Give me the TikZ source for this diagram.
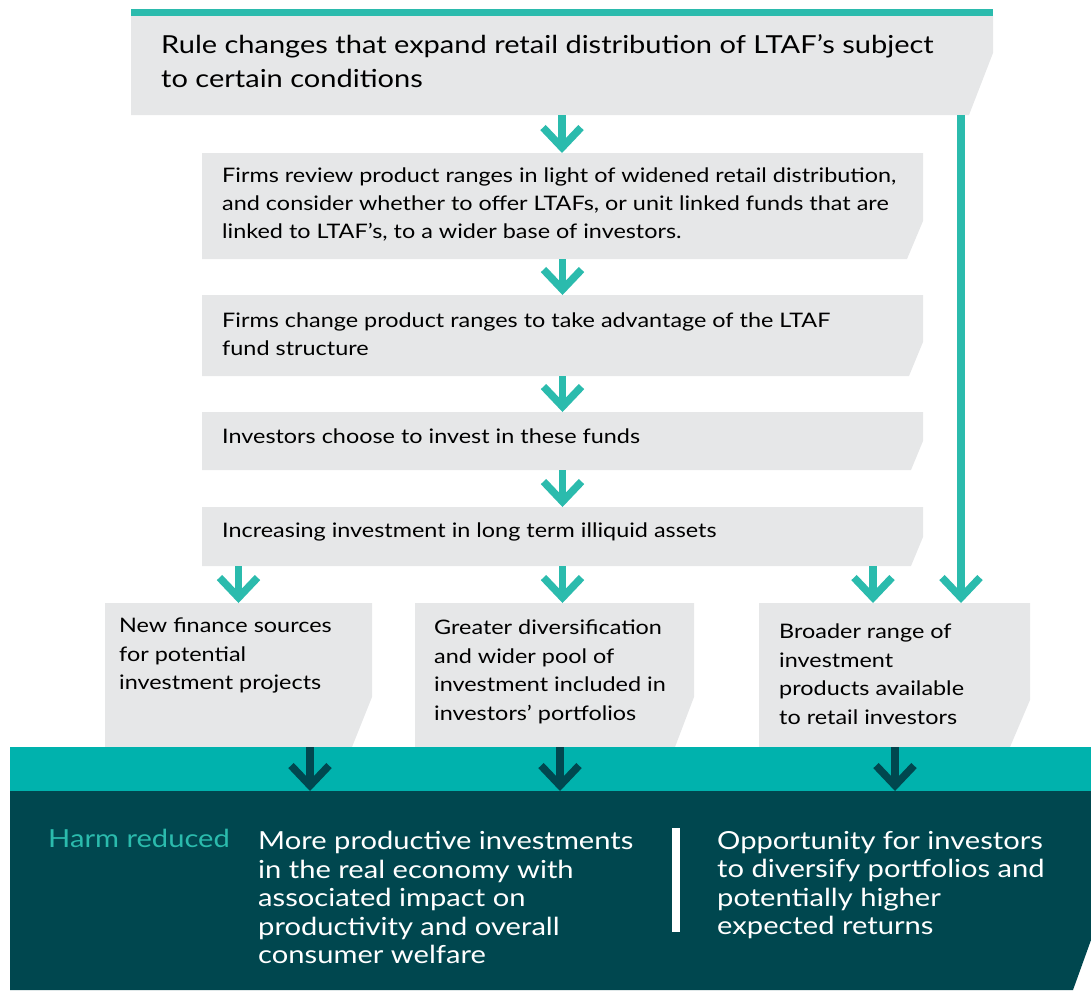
\documentclass[tikz,border=0pt]{standalone}
\usepackage{fontspec}
\setmainfont{Lato}[FakeStretch=1.17]
\usetikzlibrary{arrows.meta,positioning}

\definecolor{fcateal}{HTML}{2BBBAD}
\definecolor{fcaband}{HTML}{00B2AD}
\definecolor{fcadark}{HTML}{00474F}
\definecolor{fcagrey}{HTML}{E6E7E8}

\begin{document}
\begin{tikzpicture}[x=1pt,y=-1pt,
    chamf/.code 2 args={\def\chamx{#1}\def\chamy{#2}},
    chamf={16pt}{38pt},
    boxfill/.store in=\boxcolour, boxfill=fcagrey,
    box/.style={rectangle, inner sep=0pt, outer sep=0pt, anchor=north west,
      path picture={\fill[\boxcolour] (path picture bounding box.north west)
        -- (path picture bounding box.north east)
        -- ([yshift=\chamy]path picture bounding box.south east)
        -- ([xshift=-\chamx]path picture bounding box.south east)
        -- (path picture bounding box.south west) -- cycle;}},
    txt/.style={anchor=north west, inner sep=0pt, align=left,
      font=\fontsize{20}{28.5}\selectfont},
    bigtxt/.style={txt, font=\fontsize{24.9}{28.5}\selectfont},
    flow/.style={-{Straight Barb[length=20pt,width=38pt]}, line width=7.5pt,
      fcateal},
    dkflow/.style={flow, fcadark}]
  \useasboundingbox (0,0) rectangle (1091,990);

  % chain of steps
  \node[box, chamf={24pt}{62pt}, minimum width=862pt, minimum height=99pt]
    (rule) at (131,16) {};
  \draw[fcateal, line width=7pt] ([yshift=3.5pt]rule.north west)
    -- ([yshift=3.5pt]rule.north east);
  \node[box, minimum width=721pt, minimum height=106pt] (review) at (202,153) {};
  \node[box, chamf={14pt}{34pt}, minimum width=721pt, minimum height=81pt]
    (change) at (202,295) {};
  \node[box, chamf={12pt}{29pt}, minimum width=721pt, minimum height=58pt]
    (choose) at (202,412) {};
  \node[box, chamf={12pt}{29pt}, minimum width=721pt, minimum height=59pt]
    (increase) at (202,507) {};

  % outcomes
  \node[box, chamf={20pt}{50pt}, minimum width=267pt, minimum height=144pt]
    (finance) at (105,603) {};
  \node[box, chamf={19pt}{50pt}, minimum width=279pt, minimum height=144pt]
    (diverse) at (415,603) {};
  \node[box, chamf={20pt}{47pt}, minimum width=271pt, minimum height=144pt]
    (broader) at (759,603) {};

  % harm reduced
  \node[fill=fcaband, inner sep=0pt, outer sep=0pt, anchor=north west,
    minimum width=1081pt, minimum height=44pt] (band) at (10,747) {};
  \node[box, boxfill=fcadark, chamf={18pt}{50pt}, minimum width=1081pt,
    minimum height=199pt] (harm) at (10,791) {};

  \node[bigtxt, font=\fontsize{24.8}{34}\selectfont] (ruletext) at (161,34)
    {Rule changes that expand retail distribution of LTAF’s subject\\
     to certain conditions};
  \node[txt, font=\fontsize{20}{28}\selectfont] (reviewtext) at (222,168)
    {Firms review product ranges in light of widened retail distribution,\\
     and consider whether to offer LTAFs, or unit linked funds that are\\
     linked to LTAF’s, to a wider base of investors.};
  \node[txt, font=\fontsize{20}{28}\selectfont] (changetext) at (222,313)
    {Firms change product ranges to take advantage of the LTAF\\
     fund structure};
  \node[txt] (choosetext) at (222,429) {Investors choose to invest in these funds};
  \node[txt] (increasetext) at (222,523)
    {Increasing investment in long term illiquid assets};
  \node[txt] (financetext) at (119,618)
    {New finance sources\\for potential\\investment projects};
  \node[txt] (diversetext) at (434,620)
    {Greater diversification\\and wider pool of\\investment included in\\
     investors’ portfolios};
  \node[txt] (broadertext) at (779,624)
    {Broader range of\\investment\\products available\\to retail investors};

  \node[bigtxt, text=fcateal] (harmlabel) at (48,829) {Harm reduced};
  \node[bigtxt, text=white] (economy) at (258,831)
    {More productive investments\\in the real economy with\\
     associated impact on\\productivity and overall\\consumer welfare};
  \node[bigtxt, text=white] (investors) at (717,831)
    {Opportunity for investors\\to diversify portfolios and\\
     potentially higher\\expected returns};
  \coordinate (divtop) at (676,828);
  \coordinate (divbot) at (676,932);
  \draw[white, line width=8pt] (divtop) -- (divbot);

  % connectors
  \draw[flow] (rule.south) -- (rule.south |- review.north);
  \draw[flow] (review.south) -- (change.north);
  \draw[flow] (change.south) -- (choose.north);
  \draw[flow] (choose.south) -- (increase.north);
  \draw[flow] (finance.north |- increase.south) -- (finance.north);
  \draw[flow] (increase.south) -- (increase.south |- diverse.north);
  \draw[flow] (increase.south -| 873,0) -- (broader.north -| 873,0);
  \draw[flow] (rule.south -| 961,0) -- (broader.north -| 961,0);
  \draw[dkflow] (finance.south -| 310,0) -- (harm.north -| 310,0);
  \draw[dkflow] (diverse.south -| 560,0) -- (harm.north -| 560,0);
  \draw[dkflow] (broader.south -| 895,0) -- (harm.north -| 895,0);
\end{tikzpicture}
\end{document}
